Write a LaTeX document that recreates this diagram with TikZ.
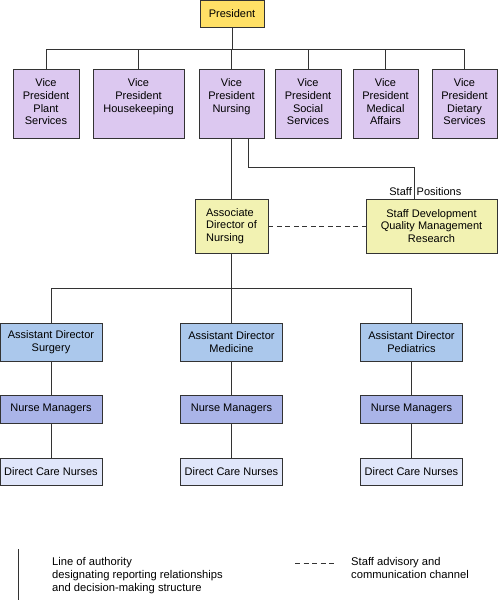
\documentclass[tikz,border=0pt]{standalone}
\usepackage{fontspec}
\setmainfont{Liberation Sans}
\definecolor{presC}{HTML}{FFE066}
\definecolor{vpC}{HTML}{DCC8F0}
\definecolor{adnC}{HTML}{F2F2B2}
\definecolor{adC}{HTML}{ABC8EC}
\definecolor{nmC}{HTML}{AAB4E8}
\definecolor{dcnC}{HTML}{E0E6FA}
\definecolor{lineC}{HTML}{333333}
\begin{document}
\begin{tikzpicture}[x=1pt,y=-1pt,
  box/.style={draw=lineC, line width=0.9pt, inner sep=0pt, align=center,
    font={\fontsize{11}{12.7}\selectfont}},
  vpbox/.style={box, fill=vpC, minimum height=69pt},
  vptext/.style={anchor=north, inner sep=0pt, align=center, font={\fontsize{11}{12.7}\selectfont}},
  adbox/.style={box, fill=adC, minimum width=102pt, minimum height=38pt},
  nmbox/.style={box, fill=nmC, minimum width=102pt, minimum height=28pt},
  dcnbox/.style={box, fill=dcnC, minimum width=102pt, minimum height=27pt},
  conn/.style={draw=lineC, line width=0.9pt},
  advisory/.style={conn, dash pattern=on 5pt off 3.5pt},
  legtext/.style={anchor=north west, inner sep=0pt, align=left, font={\fontsize{11.2}{13}\selectfont}}
]
\useasboundingbox (0,0) rectangle (498,600);

% President
\node[box, fill=presC, minimum width=64pt, minimum height=27pt] (pres) at (232,13.5) {President};

% Vice presidents
\node[vpbox, minimum width=66pt] (vp1) at (46,103.5) {};
\node[vpbox, minimum width=91pt] (vp2) at (138.5,103.5) {};
\node[vpbox, minimum width=65pt] (vp3) at (231.5,103.5) {};
\node[vpbox, minimum width=66pt] (vp4) at (308,103.5) {};
\node[vpbox, minimum width=65pt] (vp5) at (385.5,103.5) {};
\node[vpbox, minimum width=65pt] (vp6) at (464.5,103.5) {};
\node[vptext] (vp1t) at ([yshift=-10pt]vp1.north) {Vice\\President\\Plant\\Services};
\node[vptext] (vp2t) at ([yshift=-10pt]vp2.north) {Vice\\President\\Housekeeping};
\node[vptext] (vp3t) at ([yshift=-10pt]vp3.north) {Vice\\President\\Nursing};
\node[vptext] (vp4t) at ([yshift=-10pt]vp4.north) {Vice\\President\\Social\\Services};
\node[vptext] (vp5t) at ([yshift=-10pt]vp5.north) {Vice\\President\\Medical\\Affairs};
\node[vptext] (vp6t) at ([yshift=-10pt]vp6.north) {Vice\\President\\Dietary\\Services};

% Associate director and staff
\node[box, fill=adnC, minimum width=73pt, minimum height=54pt, align=left] (adn) at (231.5,226) {Associate\\Director of\\Nursing};
\node[box, fill=adnC, minimum width=131pt, minimum height=54pt] (staff) at (431.5,226) {Staff Development\\Quality Management\\Research};
\coordinate (sdrop) at ([xshift=-17.5pt]staff.north);
\node[anchor=base east, inner sep=0pt, font={\fontsize{11}{12.7}\selectfont}] (stl) at ([xshift=-2pt]sdrop |- 0,195) {Staff};
\node[anchor=base west, inner sep=0pt, font={\fontsize{11}{12.7}\selectfont}] (stp) at ([xshift=2.5pt]sdrop |- 0,195) {Positions};

% Assistant directors
\node[adbox] (ad1) at (51,342) {Assistant Director\\Surgery};
\node[adbox] (ad2) at (231.5,342) {Assistant Director\\Medicine};
\node[adbox] (ad3) at (411.5,342) {Assistant Director\\Pediatrics};
\node[nmbox] (nm1) at (51,409) {Nurse Managers};
\node[nmbox] (nm2) at (231.5,409) {Nurse Managers};
\node[nmbox] (nm3) at (411.5,409) {Nurse Managers};
\node[dcnbox] (dc1) at (51,471.5) {Direct Care Nurses};
\node[dcnbox] (dc2) at (231.5,471.5) {Direct Care Nurses};
\node[dcnbox] (dc3) at (411.5,471.5) {Direct Care Nurses};

% Connectors: president to VPs
\coordinate (bus1) at (0,49);
\foreach \v in {vp1,vp2,vp3,vp4,vp5,vp6}{
  \draw[conn] (pres.south) |- (bus1 -| \v.north) -- (\v.north);
}
% VP Nursing to ADN
\draw[conn] (vp3.south) -- (adn.north);
% VP Nursing to staff positions
\coordinate (sbus) at (0,167);
\draw[conn] ([xshift=16.5pt]vp3.south) |- (sbus -| sdrop) -- (sdrop);
% advisory
\draw[advisory] (adn.east) -- (staff.west);
% ADN to assistant directors
\coordinate (bus2) at (0,288);
\foreach \a in {ad1,ad2,ad3}{
  \draw[conn] (adn.south) |- (bus2 -| \a.north) -- (\a.north);
}
\draw[conn] (ad1) -- (nm1) -- (dc1);
\draw[conn] (ad2) -- (nm2) -- (dc2);
\draw[conn] (ad3) -- (nm3) -- (dc3);

% Legend
\coordinate (la) at (18,549);
\coordinate (lb) at (18,600);
\draw[conn] (la) -- (lb);
\node[legtext] (lt1) at (52,557) {Line of authority\\designating reporting relationships\\and decision-making structure};
\coordinate (da) at (295,563);
\coordinate (db) at (335,563);
\draw[advisory] (da) -- (db);
\node[legtext] (lt2) at (351,557) {Staff advisory and\\communication channel};
\end{tikzpicture}
\end{document}
